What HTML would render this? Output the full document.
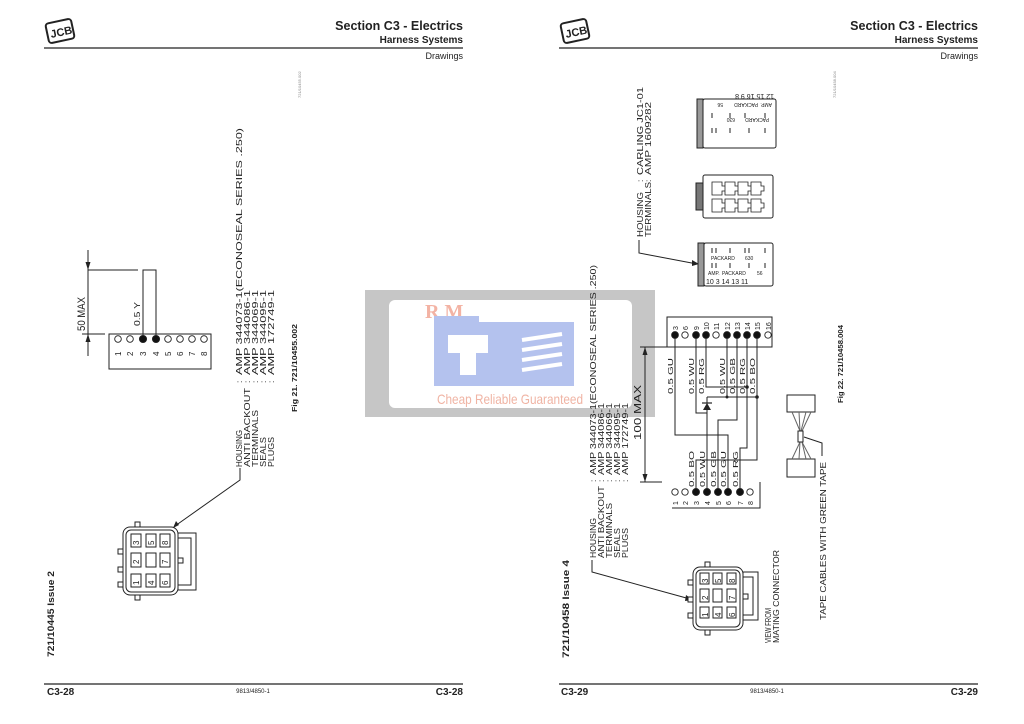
<!DOCTYPE html>
<html><head><meta charset="utf-8"><style>
html,body{margin:0;padding:0;background:#fff;}
svg{display:block;}
text{font-family:"Liberation Sans",sans-serif;fill:#222;}
.h1{font-size:12.5px;font-weight:bold;}
.h2{font-size:10px;font-weight:bold;}
.h3{font-size:9px;}
</style></head><body>
<svg width="1024" height="724" viewBox="0 0 1024 724" xmlns="http://www.w3.org/2000/svg">
<!-- watermark -->
<rect x="365" y="290" width="290" height="127" fill="#c6c6c6"/>
<rect x="389" y="300" width="243" height="108" rx="6" fill="#fff"/>
<text x="425" y="318" style="font-family:'Liberation Serif',serif;font-size:20px;font-weight:bold;fill:#f3b3a4">R M</text>
<rect x="434" y="322" width="140" height="64" fill="#b4c2ee"/>
<rect x="434" y="316" width="45" height="8" fill="#b4c2ee"/>
<path d="M448 335 h40 v18 h-12 v22 h-16 v-22 h-12z" fill="#fff"/>
<g stroke="#fff" stroke-width="4"><line x1="522" y1="340" x2="562" y2="334"/><line x1="522" y1="350" x2="562" y2="344"/><line x1="522" y1="360" x2="562" y2="354"/><line x1="522" y1="370" x2="562" y2="364"/></g>
<text x="437" y="404" textLength="146" lengthAdjust="spacingAndGlyphs" style="font-size:14px;fill:#f0b4a4">Cheap Reliable Guaranteed</text>

<!-- headers -->
<g>
<rect x="47" y="21" width="26" height="20" rx="3" fill="#fff" stroke="#222" stroke-width="2" transform="rotate(-12 60 31)"/>
<text x="50" y="36" style="font-size:11px;font-weight:bold" transform="rotate(-12 60 31)">JCB</text>
<rect x="562" y="21" width="26" height="20" rx="3" fill="#fff" stroke="#222" stroke-width="2" transform="rotate(-12 575 31)"/>
<text x="565" y="36" style="font-size:11px;font-weight:bold" transform="rotate(-12 575 31)">JCB</text>
</g>
<text x="463" y="30" text-anchor="end" class="h1">Section C3 - Electrics</text>
<text x="463" y="43" text-anchor="end" class="h2">Harness Systems</text>
<line x1="44" y1="48" x2="463" y2="48" stroke="#222" stroke-width="1.2"/>
<text x="463" y="59" text-anchor="end" class="h3">Drawings</text>
<text x="978" y="30" text-anchor="end" class="h1">Section C3 - Electrics</text>
<text x="978" y="43" text-anchor="end" class="h2">Harness Systems</text>
<line x1="559" y1="48" x2="978" y2="48" stroke="#222" stroke-width="1.2"/>
<text x="978" y="59" text-anchor="end" class="h3">Drawings</text>
<text transform="translate(301,98) rotate(-90)" style="font-size:4px;fill:#888">721/10455.002</text>
<text transform="translate(836,98) rotate(-90)" style="font-size:4px;fill:#888">721/10458.004</text>

<!-- footers -->
<line x1="44" y1="684" x2="463" y2="684" stroke="#222" stroke-width="1.2"/>
<line x1="559" y1="684" x2="978" y2="684" stroke="#222" stroke-width="1.2"/>
<text x="47" y="695" style="font-size:10px;font-weight:bold">C3-28</text>
<text x="463" y="695" text-anchor="end" style="font-size:10px;font-weight:bold">C3-28</text>
<text x="253" y="693" text-anchor="middle" style="font-size:6px">9813/4850-1</text>
<text x="561" y="695" style="font-size:10px;font-weight:bold">C3-29</text>
<text x="978" y="695" text-anchor="end" style="font-size:10px;font-weight:bold">C3-29</text>
<text x="767" y="693" text-anchor="middle" style="font-size:6px">9813/4850-1</text>
<text transform="translate(54,657) rotate(-90)" style="font-size:9px;font-weight:bold" textLength="86" lengthAdjust="spacingAndGlyphs">721/10445 Issue 2</text>
<text transform="translate(569,658) rotate(-90)" style="font-size:9px;font-weight:bold" textLength="98" lengthAdjust="spacingAndGlyphs">721/10458 Issue 4</text>

<!-- LEFT PAGE DIAGRAM -->
<g stroke="#222" fill="none" stroke-width="1">
<rect x="109" y="334" width="102" height="35"/>
<line x1="88" y1="270" x2="138" y2="270"/>
<line x1="82" y1="334" x2="105" y2="334"/>
<line x1="88" y1="250" x2="88" y2="356"/>
<polyline points="143,338 143,270 156,270 156,338"/>
<polyline points="240,468 240,480 175,526"/>
</g>
<path d="M88 270 l-2.5 -8 h5z M88 334 l-2.5 8 h5z M173 528 l3 -7 l3 4z" fill="#222"/>
<g stroke="#222" stroke-width="0.9">
<circle cx="118" cy="339" r="3.3" fill="#fff"/><circle cx="130" cy="339" r="3.3" fill="#fff"/>
<circle cx="143" cy="339" r="3.6" fill="#111"/><circle cx="156" cy="339" r="3.6" fill="#111"/>
<circle cx="168" cy="339" r="3.3" fill="#fff"/><circle cx="180" cy="339" r="3.3" fill="#fff"/>
<circle cx="192" cy="339" r="3.3" fill="#fff"/><circle cx="204" cy="339" r="3.3" fill="#fff"/>
</g>
<g style="font-size:8px">
<text transform="translate(121,356) rotate(-90)">1</text><text transform="translate(133,356) rotate(-90)">2</text>
<text transform="translate(146,356) rotate(-90)">3</text><text transform="translate(159,356) rotate(-90)">4</text>
<text transform="translate(171,356) rotate(-90)">5</text><text transform="translate(183,356) rotate(-90)">6</text>
<text transform="translate(195,356) rotate(-90)">7</text><text transform="translate(207,356) rotate(-90)">8</text>
</g>
<text transform="translate(85,331) rotate(-90)" style="font-size:11px" textLength="34" lengthAdjust="spacingAndGlyphs">50 MAX</text>
<text transform="translate(140,326) rotate(-90)" style="font-size:8px" textLength="24" lengthAdjust="spacingAndGlyphs">0.5 Y</text>
<g style="font-size:8.5px">
<text transform="translate(242,467) rotate(-90)" textLength="37" lengthAdjust="spacingAndGlyphs">HOUSING</text>
<text transform="translate(250,467) rotate(-90)" textLength="79" lengthAdjust="spacingAndGlyphs">ANTI BACKOUT</text>
<text transform="translate(258,467) rotate(-90)" textLength="57" lengthAdjust="spacingAndGlyphs">TERMINALS</text>
<text transform="translate(266,467) rotate(-90)" textLength="30" lengthAdjust="spacingAndGlyphs">SEALS</text>
<text transform="translate(274,467) rotate(-90)" textLength="30" lengthAdjust="spacingAndGlyphs">PLUGS</text>
<text transform="translate(242,383) rotate(-90)">:</text><text transform="translate(250,383) rotate(-90)">:</text>
<text transform="translate(258,383) rotate(-90)">:</text><text transform="translate(266,383) rotate(-90)">:</text>
<text transform="translate(274,383) rotate(-90)">:</text>
<text transform="translate(242,375) rotate(-90)" textLength="247" lengthAdjust="spacingAndGlyphs">AMP 344073-1(ECONOSEAL SERIES .250)</text>
<text transform="translate(250,375) rotate(-90)" textLength="85" lengthAdjust="spacingAndGlyphs">AMP 344086-1</text>
<text transform="translate(258,375) rotate(-90)" textLength="85" lengthAdjust="spacingAndGlyphs">AMP 344069-1</text>
<text transform="translate(266,375) rotate(-90)" textLength="85" lengthAdjust="spacingAndGlyphs">AMP 344095-1</text>
<text transform="translate(274,375) rotate(-90)" textLength="85" lengthAdjust="spacingAndGlyphs">AMP 172749-1</text>
</g>
<text transform="translate(297,412) rotate(-90)" style="font-size:7px;font-weight:bold" textLength="88" lengthAdjust="spacingAndGlyphs">Fig 21. 721/10455.002</text>

<!-- left mating connector -->
<g stroke="#222" fill="#fff" stroke-width="1">
<rect x="135" y="522" width="5" height="6"/><rect x="135" y="594" width="5" height="6"/>
<rect x="118" y="549" width="5" height="5"/><rect x="118" y="567" width="5" height="5"/><rect x="118" y="582" width="5" height="5"/>
<rect x="178" y="558" width="5" height="5"/>
<path d="M178 533 h18 v57 h-18 v-5 h13 v-47 h-13z"/>
<rect x="123" y="527" width="55" height="68" rx="7"/>
<rect x="126" y="530" width="49" height="62" rx="5"/>
<rect x="131" y="534" width="10" height="13"/><rect x="146" y="534" width="10" height="13"/><rect x="160" y="534" width="10" height="13"/>
<rect x="131" y="553" width="10" height="14"/><rect x="146" y="553" width="10" height="14"/><rect x="160" y="553" width="10" height="14"/>
<rect x="131" y="574" width="10" height="13"/><rect x="146" y="574" width="10" height="13"/><rect x="160" y="574" width="10" height="13"/>
</g>
<g style="font-size:8px">
<text transform="translate(139,545) rotate(-90)">3</text><text transform="translate(154,545) rotate(-90)">5</text><text transform="translate(168,545) rotate(-90)">8</text>
<text transform="translate(139,564) rotate(-90)">2</text><text transform="translate(168,564) rotate(-90)">7</text>
<text transform="translate(139,585) rotate(-90)">1</text><text transform="translate(154,585) rotate(-90)">4</text><text transform="translate(168,585) rotate(-90)">6</text>
</g>

<!-- RIGHT PAGE: top connectors -->
<g style="font-size:8.5px">
<text transform="translate(643,237) rotate(-90)" textLength="45" lengthAdjust="spacingAndGlyphs">HOUSING</text>
<text transform="translate(651,237) rotate(-90)" textLength="55" lengthAdjust="spacingAndGlyphs">TERMINALS</text>
<text transform="translate(643,182) rotate(-90)">:</text><text transform="translate(651,182) rotate(-90)">:</text>
<text transform="translate(643,175) rotate(-90)" textLength="88" lengthAdjust="spacingAndGlyphs">CARLING JC1-01</text>
<text transform="translate(651,175) rotate(-90)" textLength="73" lengthAdjust="spacingAndGlyphs">AMP 1609282</text>
</g>
<polyline points="639,240 639,253 697,264" stroke="#222" fill="none"/>
<path d="M699 264 l-7 -4 l0 6z" fill="#222"/>
<g stroke="#222" fill="#fff">
<rect x="703" y="99" width="73" height="49" rx="2"/>
<rect x="697" y="99" width="6" height="49" fill="#999"/>
<rect x="703" y="175" width="70" height="43" rx="2"/>
<rect x="696" y="183" width="7" height="27" fill="#777"/>
<rect x="704" y="243" width="69" height="43" rx="2"/>
<rect x="698" y="243" width="6" height="43" fill="#999"/>
</g>
<g stroke="#222" fill="#fff" stroke-width="0.8">
<path d="M712 182 h10 v4 h3 v5 h-3 v4 h-10z M725 182 h10 v4 h3 v5 h-3 v4 h-10z M738 182 h10 v4 h3 v5 h-3 v4 h-10z M751 182 h10 v4 h3 v5 h-3 v4 h-10z"/>
<path d="M712 199 h10 v4 h3 v5 h-3 v4 h-10z M725 199 h10 v4 h3 v5 h-3 v4 h-10z M738 199 h10 v4 h3 v5 h-3 v4 h-10z M751 199 h10 v4 h3 v5 h-3 v4 h-10z"/>
</g>
<g stroke="#222" stroke-width="1">
<path d="M712 248 v5 M716 248 v5 M730 248 v5 M745 248 v5 M749 248 v5 M765 248 v5 M712 263 v5 M716 263 v5 M730 263 v5 M749 263 v5 M765 263 v5"/>
<path d="M712 113 v5 M730 113 v5 M745 113 v5 M765 113 v5 M712 128 v5 M716 128 v5 M730 128 v5 M749 128 v5 M765 128 v5"/>
</g>
<g style="font-size:5px">
<text x="711" y="260">PACKARD</text><text x="745" y="260">630</text>
<text x="708" y="275">AMP.</text><text x="722" y="275">PACKARD</text><text x="757" y="275">56</text>
<text x="706" y="284" style="font-size:7px">10 3   14  13 11</text>
<g transform="rotate(180 740 120)"><text x="711" y="122">PACKARD</text><text x="745" y="122">630</text>
<text x="708" y="137">AMP.</text><text x="722" y="137">PACKARD</text><text x="757" y="137">56</text>
<text x="706" y="146" style="font-size:7px">12 15  16   9   8</text></g>
</g>

<!-- wire diagram -->
<g stroke="#222" fill="none" stroke-width="1">
<rect x="667" y="317" width="105" height="30"/>
<polyline points="672,508 760,508 760,482"/>
<line x1="640" y1="347" x2="667" y2="347"/>
<line x1="640" y1="482" x2="662" y2="482"/>
<line x1="645" y1="347" x2="645" y2="482"/>
<polyline points="675,335 675,435 728,435 728,492"/>
<polyline points="696,335 696,413 707,413"/>
<line x1="707" y1="492" x2="707" y2="397"/>
<polyline points="706,335 706,387 747,387"/>
<polyline points="727,335 727,397"/>
<line x1="707" y1="397" x2="757" y2="397"/>
<polyline points="737,335 737,420 718,420 718,492"/>
<polyline points="747,335 747,448 740,448 740,492"/>
<polyline points="757,335 757,460 696,460 696,492"/>
</g>
<path d="M645 347 l-2.5 8 h5z M645 482 l-2.5 -8 h5z M707 403 l-4 7 h8z" fill="#222"/>
<line x1="702" y1="403" x2="712" y2="403" stroke="#222" stroke-width="1.2"/>
<circle cx="757" cy="397" r="1.8" fill="#222"/><circle cx="747" cy="387" r="1.8" fill="#222"/><circle cx="727" cy="397" r="1.5" fill="#222"/>
<g stroke="#222" stroke-width="0.9">
<circle cx="675" cy="335" r="3.4" fill="#111"/><circle cx="685" cy="335" r="3.2" fill="#fff"/>
<circle cx="696" cy="335" r="3.4" fill="#111"/><circle cx="706" cy="335" r="3.4" fill="#111"/>
<circle cx="716" cy="335" r="3.2" fill="#fff"/><circle cx="727" cy="335" r="3.4" fill="#111"/>
<circle cx="737" cy="335" r="3.4" fill="#111"/><circle cx="747" cy="335" r="3.4" fill="#111"/>
<circle cx="757" cy="335" r="3.4" fill="#111"/><circle cx="768" cy="335" r="3.2" fill="#fff"/>
<circle cx="675" cy="492" r="3.2" fill="#fff"/><circle cx="685" cy="492" r="3.2" fill="#fff"/>
<circle cx="696" cy="492" r="3.5" fill="#111"/><circle cx="707" cy="492" r="3.5" fill="#111"/>
<circle cx="718" cy="492" r="3.5" fill="#111"/><circle cx="728" cy="492" r="3.5" fill="#111"/>
<circle cx="740" cy="492" r="3.5" fill="#111"/><circle cx="750" cy="492" r="3.2" fill="#fff"/>
</g>
<g style="font-size:7px">
<text transform="translate(678,330) rotate(-90)">3</text><text transform="translate(688,330) rotate(-90)">6</text>
<text transform="translate(699,330) rotate(-90)">9</text><text transform="translate(709,330) rotate(-90)">10</text>
<text transform="translate(719,330) rotate(-90)">11</text><text transform="translate(730,330) rotate(-90)">12</text>
<text transform="translate(740,330) rotate(-90)">13</text><text transform="translate(750,330) rotate(-90)">14</text>
<text transform="translate(760,330) rotate(-90)">15</text><text transform="translate(771,330) rotate(-90)">16</text>
<text transform="translate(678,505) rotate(-90)">1</text><text transform="translate(688,505) rotate(-90)">2</text>
<text transform="translate(699,505) rotate(-90)">3</text><text transform="translate(710,505) rotate(-90)">4</text>
<text transform="translate(721,505) rotate(-90)">5</text><text transform="translate(731,505) rotate(-90)">6</text>
<text transform="translate(743,505) rotate(-90)">7</text><text transform="translate(753,505) rotate(-90)">8</text>
</g>
<g style="font-size:7.5px">
<text transform="translate(673,394) rotate(-90)" textLength="36" lengthAdjust="spacingAndGlyphs">0.5 GU</text>
<text transform="translate(694,394) rotate(-90)" textLength="36" lengthAdjust="spacingAndGlyphs">0.5 WU</text>
<text transform="translate(704,394) rotate(-90)" textLength="36" lengthAdjust="spacingAndGlyphs">0.5 RG</text>
<text transform="translate(725,394) rotate(-90)" textLength="36" lengthAdjust="spacingAndGlyphs">0.5 WU</text>
<text transform="translate(735,394) rotate(-90)" textLength="36" lengthAdjust="spacingAndGlyphs">0.5 GB</text>
<text transform="translate(745,394) rotate(-90)" textLength="36" lengthAdjust="spacingAndGlyphs">0.5 RG</text>
<text transform="translate(755,394) rotate(-90)" textLength="36" lengthAdjust="spacingAndGlyphs">0.5 BO</text>
<text transform="translate(694,487) rotate(-90)" textLength="36" lengthAdjust="spacingAndGlyphs">0.5 BO</text>
<text transform="translate(705,487) rotate(-90)" textLength="36" lengthAdjust="spacingAndGlyphs">0.5 WU</text>
<text transform="translate(716,487) rotate(-90)" textLength="36" lengthAdjust="spacingAndGlyphs">0.5 GB</text>
<text transform="translate(726,487) rotate(-90)" textLength="36" lengthAdjust="spacingAndGlyphs">0.5 GU</text>
<text transform="translate(738,487) rotate(-90)" textLength="36" lengthAdjust="spacingAndGlyphs">0.5 RG</text>
</g>
<text transform="translate(641,440) rotate(-90)" style="font-size:10px" textLength="55" lengthAdjust="spacingAndGlyphs">100 MAX</text>

<!-- right text block -->
<g style="font-size:8.5px">
<text transform="translate(596,558) rotate(-90)" textLength="40" lengthAdjust="spacingAndGlyphs">HOUSING</text>
<text transform="translate(604,558) rotate(-90)" textLength="72" lengthAdjust="spacingAndGlyphs">ANTI BACKOUT</text>
<text transform="translate(612,558) rotate(-90)" textLength="55" lengthAdjust="spacingAndGlyphs">TERMINALS</text>
<text transform="translate(620,558) rotate(-90)" textLength="30" lengthAdjust="spacingAndGlyphs">SEALS</text>
<text transform="translate(628,558) rotate(-90)" textLength="30" lengthAdjust="spacingAndGlyphs">PLUGS</text>
<text transform="translate(596,482) rotate(-90)">:</text><text transform="translate(604,482) rotate(-90)">:</text>
<text transform="translate(612,482) rotate(-90)">:</text><text transform="translate(620,482) rotate(-90)">:</text>
<text transform="translate(628,482) rotate(-90)">:</text>
<text transform="translate(596,475) rotate(-90)" textLength="210" lengthAdjust="spacingAndGlyphs">AMP 344073-1(ECONOSEAL SERIES .250)</text>
<text transform="translate(604,475) rotate(-90)" textLength="72" lengthAdjust="spacingAndGlyphs">AMP 344086-1</text>
<text transform="translate(612,475) rotate(-90)" textLength="72" lengthAdjust="spacingAndGlyphs">AMP 344069-1</text>
<text transform="translate(620,475) rotate(-90)" textLength="72" lengthAdjust="spacingAndGlyphs">AMP 344095-1</text>
<text transform="translate(628,475) rotate(-90)" textLength="72" lengthAdjust="spacingAndGlyphs">AMP 172749-1</text>
</g>
<polyline points="592,560 592,572 690,599" stroke="#222" fill="none"/>
<path d="M693 600 l-7 -5 l-1 6z" fill="#222"/>

<!-- right mating connector -->
<g stroke="#222" fill="#fff" stroke-width="1">
<rect x="705" y="562" width="5" height="6"/><rect x="705" y="629" width="5" height="6"/>
<rect x="688" y="580" width="5" height="5"/><rect x="688" y="597" width="5" height="5"/><rect x="688" y="613" width="5" height="5"/>
<rect x="743" y="594" width="5" height="5"/>
<path d="M743 572 h15 v48 h-15 v-5 h10 v-38 h-10z"/>
<rect x="693" y="567" width="50" height="63" rx="7"/>
<rect x="696" y="570" width="44" height="57" rx="5"/>
<rect x="700" y="573" width="9" height="11"/><rect x="713" y="573" width="9" height="11"/><rect x="727" y="573" width="9" height="11"/>
<rect x="700" y="589" width="9" height="13"/><rect x="713" y="589" width="9" height="13"/><rect x="727" y="589" width="9" height="13"/>
<rect x="700" y="607" width="9" height="11"/><rect x="713" y="607" width="9" height="11"/><rect x="727" y="607" width="9" height="11"/>
</g>
<g style="font-size:8px">
<text transform="translate(708,583) rotate(-90)">3</text><text transform="translate(721,583) rotate(-90)">5</text><text transform="translate(735,583) rotate(-90)">8</text>
<text transform="translate(708,600) rotate(-90)">2</text><text transform="translate(735,600) rotate(-90)">7</text>
<text transform="translate(708,617) rotate(-90)">1</text><text transform="translate(721,617) rotate(-90)">4</text><text transform="translate(735,617) rotate(-90)">6</text>
</g>
<g style="font-size:8.5px">
<text transform="translate(771,643) rotate(-90)" textLength="35" lengthAdjust="spacingAndGlyphs">VIEW FROM</text>
<text transform="translate(779,643) rotate(-90)" textLength="93" lengthAdjust="spacingAndGlyphs">MATING CONNECTOR</text>
</g>

<!-- tape -->
<g stroke="#222" fill="#fff" stroke-width="1">
<rect x="787" y="395" width="28" height="17"/>
<rect x="787" y="459" width="28" height="18"/>
<path d="M792 412 L800 431 M799 412 L800 431 M806 412 L801 431 M811 412 L802 431 M792 459 L800 442 M799 459 L800 442 M806 459 L802 442 M811 459 L802 442" stroke="#666"/>
<rect x="798" y="431" width="5" height="11"/>
<polyline points="804,437 822,443 822,456" fill="none"/>
</g>
<text transform="translate(826,620) rotate(-90)" style="font-size:8.5px" textLength="158" lengthAdjust="spacingAndGlyphs">TAPE CABLES WITH GREEN TAPE</text>
<text transform="translate(843,403) rotate(-90)" style="font-size:7px;font-weight:bold" textLength="78" lengthAdjust="spacingAndGlyphs">Fig 22. 721/10458.004</text>
</svg>
</body></html>
